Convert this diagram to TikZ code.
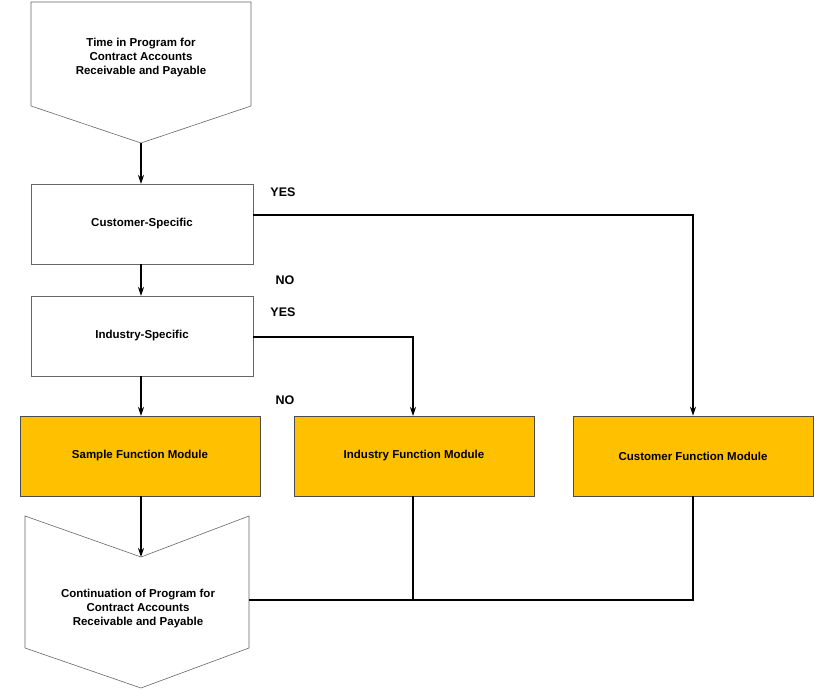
\documentclass[tikz,border=0pt]{standalone}
\usepackage{fontspec}
\setmainfont{Liberation Sans}
\usetikzlibrary{arrows.meta}
\definecolor{gold}{HTML}{FFC000}
\begin{document}
\begin{tikzpicture}[x=1pt,y=-1pt,
  box/.style={draw=black!60,line width=0.6pt,minimum width=222pt,minimum height=80pt,align=center,font=\fontsize{11.5}{14}\selectfont\bfseries},
  mod/.style={draw=black!70,fill=gold,line width=0.6pt,minimum width=240pt,minimum height=80pt,font=\fontsize{11.5}{14}\selectfont\bfseries},
  shp/.style={draw=black!60,line width=0.6pt},
  lbl/.style={font=\fontsize{12.5}{15}\selectfont\bfseries},
  conn/.style={line width=2pt},
  arr/.style={conn,-{Stealth[length=9pt,width=6pt]}}]
\useasboundingbox (0,0) rectangle (814,690);
\draw[shp] (31,2) -- (251,2) -- (251,106) -- (141,143) -- (31,106) -- cycle;
\node[align=center,font=\fontsize{11.5}{14}\selectfont\bfseries] (start) at (141,58) {Time in Program for\\Contract Accounts\\Receivable and Payable};
\coordinate (startp) at (141,143);
\node[box] (cust) at (142,224) {Customer-Specific};
\node[box] (ind) at (142,336) {Industry-Specific};
\node[mod] (samp) at (140,456) {Sample Function Module};
\node[mod] (indm) at (414,456) {Industry Function Module};
\node[mod] (custm) at (693,456) {Customer Function Module};
\draw[shp] (25,516) -- (141,557) -- (249,516) -- (249,648) -- (141,688) -- (25,648) -- cycle;
\coordinate (notch) at (141,557);
\node[align=center,font=\fontsize{11.5}{14}\selectfont\bfseries] (cont) at (138,609) {Continuation of Program for\\Contract Accounts\\Receivable and Payable};
\coordinate (jr) at (693,600);
\coordinate (jm) at (413,600);
\coordinate (jl) at (249,600);
\draw[arr] (startp) -- (141,184);
\draw[arr] (141,264) -- (141,296);
\draw[arr] (141,376) -- (141,416);
\draw[arr] (141,496) -- (notch);
\draw[arr] (253,215) -- (693,215) -- (custm.north);
\draw[arr] (253,337) -- (413,337) -- (413,416);
\draw[conn] (413,496) -- (jm);
\draw[conn] (custm.south) -- (jr) -- (jl);
\node[lbl] at (283,192) {YES};
\node[lbl] at (285,280) {NO};
\node[lbl] at (283,312) {YES};
\node[lbl] at (285,400) {NO};
\end{tikzpicture}
\end{document}
